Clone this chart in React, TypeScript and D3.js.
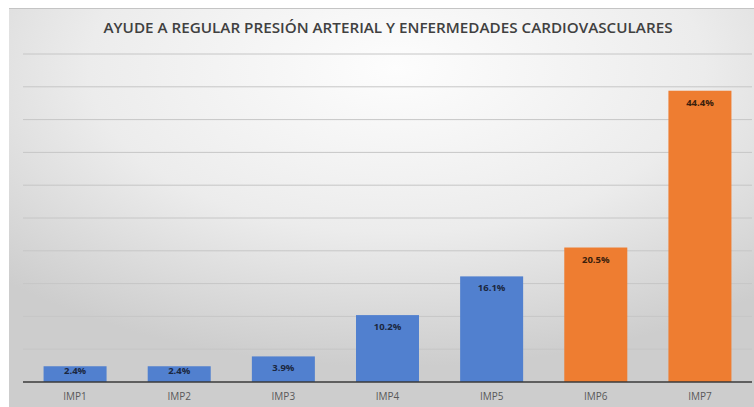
import React from "react";
import {scaleBand, scaleLinear} from "d3";

const width = 754;
const height = 407;

const categories = ["IMP1", "IMP2", "IMP3", "IMP4", "IMP5", "IMP6", "IMP7"];
const values = [2.4, 2.4, 3.9, 10.2, 16.1, 20.5, 44.4];
const labels = ["2.4%", "2.4%", "3.9%", "10.2%", "16.1%", "20.5%", "44.4%"];
const groups = ["a", "a", "a", "a", "a", "b", "b"];
const gridTicks = [5, 10, 15, 20, 25, 30, 35, 40, 45, 50];

const title = "AYUDE A REGULAR PRESIÓN ARTERIAL Y ENFERMEDADES CARDIOVASCULARES";

const colors = {a: "#5180CF", b: "#EE7D31"};
const labelColors = {a: "#1b2740", b: "#3a200c"};

const left = 23;
const right = 752;
const top = 54;
const bottom = 382;

function App() {
    const x = scaleBand().domain(categories).range([left, right]).paddingInner(0.395).paddingOuter(0.1975);
    const y = scaleLinear().domain([0, 50]).range([bottom, top]);

    return (
        <svg width={width} height={height} style={{position: "absolute", left: 0, top: 0}}>
            <defs>
                <radialGradient id="bg" cx="52%" cy="15%" r="75%" fx="52%" fy="15%">
                    <stop offset="0" stopColor="#fdfdfd"/>
                    <stop offset="0.55" stopColor="#ececec"/>
                    <stop offset="1" stopColor="#cdcdcd"/>
                </radialGradient>
            </defs>
            <rect x={0} y={0} width={width} height={height} fill="#fff"/>
            <rect x={9} y={8} width={width - 9} height={height - 8} fill="url(#bg)"/>
            <line x1={9} x2={width} y1={8.5} y2={8.5} stroke="#c4c4c4"/>

            <text x={388} y={33} textAnchor="middle" fontFamily="Open Sans" fontSize={15} fontWeight={600}
                  fill="#404040" textLength={569} lengthAdjust="spacingAndGlyphs">{title}</text>

            {gridTicks.map(t => (
                <line key={t} x1={left} x2={right} y1={y(t)} y2={y(t)} stroke="#c6c6c6" strokeWidth={1}/>
            ))}

            {categories.map((c, i) => (
                <rect key={c} x={x(c)} y={y(values[i])} width={x.bandwidth()} height={y(0) - y(values[i])}
                      fill={colors[groups[i]]}/>
            ))}

            <line x1={left} x2={right} y1={bottom} y2={bottom} stroke="#3a3a3a" strokeWidth={1.5}/>

            {categories.map((c, i) => (
                <text key={c} x={x(c) + x.bandwidth() / 2} y={Math.min(y(values[i]) + 15, 374)}
                      textAnchor="middle" fontFamily="Open Sans" fontSize={9.5} fontWeight={700}
                      fill={labelColors[groups[i]]}>{labels[i]}</text>
            ))}

            {categories.map(c => (
                <text key={c} x={x(c) + x.bandwidth() / 2} y={400} textAnchor="middle"
                      fontFamily="Open Sans" fontSize={10} fill="#595959">{c}</text>
            ))}
        </svg>
    )
}

export default App
